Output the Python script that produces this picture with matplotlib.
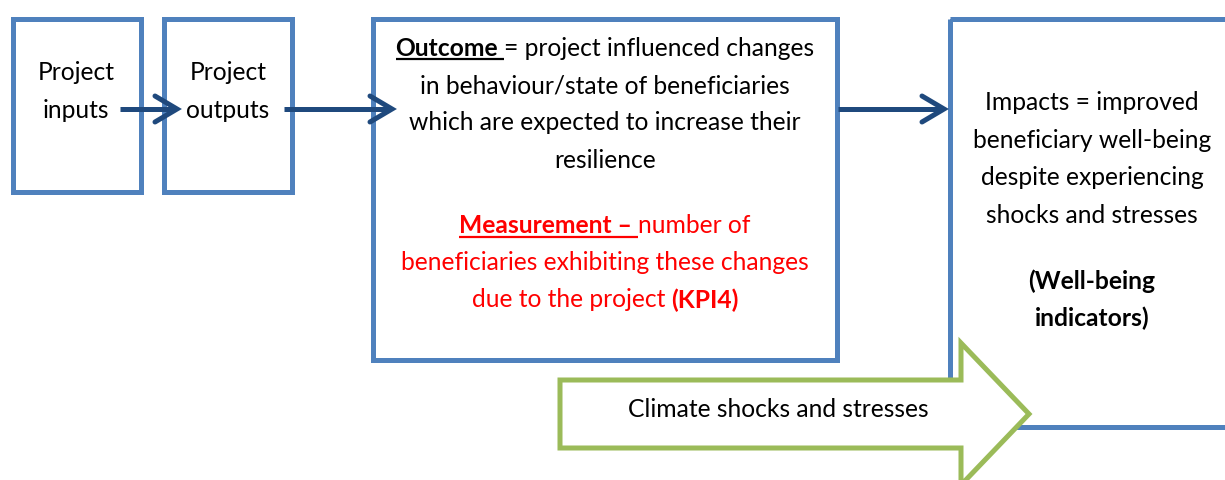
import matplotlib.pyplot as plt
from matplotlib.patches import Rectangle, Polygon

W, H = 1225, 481
FONT = ['Lato', 'DejaVu Sans']
SIZE = 17.7

BOX_EDGE = '#4F81BD'
ARROW_BLUE = '#1F497D'
GREEN = '#9BBB59'
RED = '#FF0000'

# text content of each block
input_lines = ['Project', 'inputs']
output_lines = ['Project', 'outputs']
outcome_lines = [
    [('Outcome ', 'bold', True), ('= project influenced changes', 'normal', False)],
    [('in behaviour/state of beneficiaries', 'normal', False)],
    [('which are expected to increase their', 'normal', False)],
    [('resilience', 'normal', False)],
]
measure_lines = [
    [('Measurement \u2013 ', 'bold', True), ('number of', 'normal', False)],
    [('beneficiaries exhibiting these changes', 'normal', False)],
    [('due to the project ', 'normal', False), ('(KPI4)', 'bold', False)],
]
impact_lines = ['Impacts = improved', 'beneficiary well-being',
                'despite experiencing', 'shocks and stresses']
indicator_lines = ['(Well-being', 'indicators)']
shock_label = 'Climate shocks and stresses'

fig = plt.figure(figsize=(W / 100, H / 100), dpi=100)
ax = fig.add_axes([0, 0, 1, 1])
ax.set_xlim(0, W)
ax.set_ylim(H, 0)
ax.axis('off')
r = fig.canvas.get_renderer()


def text_w(s, wt):
    t = ax.text(0, 0, s, fontsize=SIZE, fontweight=wt, family=FONT)
    w = t.get_window_extent(renderer=r).width
    t.remove()
    return w


def part_w(s, wt):
    core = s.rstrip()
    n = len(s) - len(core)
    sp = text_w('a a', wt) - text_w('aa', wt)
    return text_w(core, wt) + n * sp


def rich_line(cx, y, parts, color):
    widths = [part_w(s, wt) for s, wt, ul in parts]
    x = cx - sum(widths) / 2
    for (s, wt, ul), w in zip(parts, widths):
        ax.text(x, y, s.rstrip(), fontsize=SIZE, fontweight=wt, color=color,
                family=FONT, ha='left', va='center', zorder=5)
        if ul:
            ax.plot([x, x + w], [y + 11.5, y + 11.5], color=color, lw=1.6,
                    solid_capstyle='butt', zorder=5)
        x += w


def block(cx, y0, dy, lines, wt='normal', color='black'):
    for i, s in enumerate(lines):
        ax.text(cx, y0 + i * dy, s, fontsize=SIZE, fontweight=wt, color=color,
                family=FONT, ha='center', va='center', zorder=5)


# boxes
for x0, y0, x1, y1 in [(12.5, 19.5, 140.5, 192.5), (163.5, 19.5, 292, 192.5),
                       (372.5, 19.5, 837, 360.5), (949.5, 20, 1240, 428)]:
    ax.add_patch(Rectangle((x0, y0), x1 - x0, y1 - y0, fill=False,
                           ec=BOX_EDGE, lw=3.6, zorder=2))

# connecting arrows
for x0, x1 in [(120, 177), (284, 392), (838, 944)]:
    ax.plot([x0, x1 - 3], [110, 110], color=ARROW_BLUE, lw=3.6,
            solid_capstyle='butt', zorder=3)
    ax.plot([x1 - 22, x1, x1 - 22], [97, 110, 123], color=ARROW_BLUE,
            lw=3.6, solid_joinstyle='miter', solid_capstyle='round', zorder=3)

# climate shocks arrow
ax.add_patch(Polygon([(560, 381), (961, 381), (961, 344), (1029, 415),
                      (961, 486), (961, 449), (560, 449)], closed=True,
                     fc='white', ec=GREEN, lw=3.6, joinstyle='miter', zorder=4))

block(76, 73, 37, input_lines)
block(228, 73, 37, output_lines)
for i, parts in enumerate(outcome_lines):
    rich_line(605, 48 + i * 37.5, parts, 'black')
for i, parts in enumerate(measure_lines):
    rich_line(605, 226 + i * 37, parts, RED)
block(1092, 103, 37.5, impact_lines)
block(1092, 281, 37, indicator_lines, wt='bold')
ax.text(778, 410, shock_label, fontsize=SIZE, family=FONT, ha='center',
        va='center', zorder=5)

fig.savefig('out.png', dpi=100)
